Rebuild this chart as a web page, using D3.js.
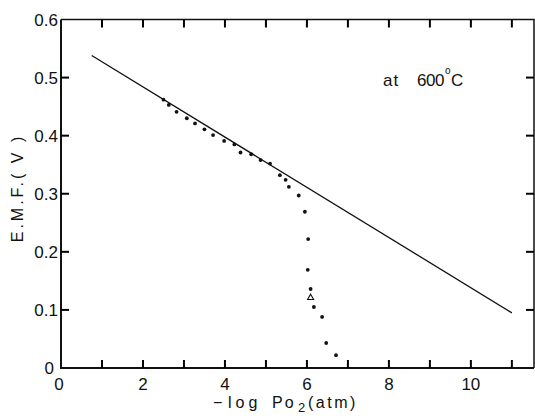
<!DOCTYPE html>
<html>
<head>
<meta charset="utf-8">
<script src="https://cdn.jsdelivr.net/npm/d3@7"></script>
<style>
  body { margin: 0; background: #fff; }
  svg text { font-family: "Liberation Sans", Arial, sans-serif; fill: #111; }
</style>
</head>
<body>
<div id="chart"></div>
<script>
// EMF vs -log Po2 at 600 C
const xTicks = [0, 2, 4, 6, 8, 10];
const xMinorTicks = [1, 2, 3, 4, 5, 6, 7, 8, 9, 10, 11];
const yTicks = [0, 0.1, 0.2, 0.3, 0.4, 0.5, 0.6];
const yTickLabels = ["0", "0.1", "0.2", "0.3", "0.4", "0.5", "0.6"];

// measured points (dots)
const pointX = [2.50, 2.63, 2.82, 3.07, 3.27, 3.50, 3.71, 3.98, 4.23, 4.38, 4.64, 4.87, 5.10,
  5.34, 5.48, 5.56, 5.80, 5.95, 6.03, 6.02, 6.09, 6.17, 6.37, 6.47, 6.71];
const pointY = [0.462, 0.453, 0.441, 0.430, 0.421, 0.411, 0.401, 0.391, 0.385, 0.371, 0.368, 0.358, 0.352,
  0.332, 0.324, 0.312, 0.297, 0.269, 0.222, 0.169, 0.136, 0.105, 0.088, 0.043, 0.022];

// single triangle point
const triX = [6.09];
const triY = [0.121];

// theoretical line
const lineX = [0.75, 11.0];
const lineY = [0.538, 0.095];

(function () {
  const W = 535, H = 418;
  const left = 61, right = 534, top = 19.5, bottom = 368;

  const svg = d3.select("#chart").append("svg")
    .attr("width", W).attr("height", H);

  const x = d3.scaleLinear().domain([0, 11.54]).range([left, right]);
  const y = d3.scaleLinear().domain([0, 0.6]).range([bottom, top]);

  // frame
  svg.append("path")
    .attr("d", `M${left},${top}H${right}V${bottom}`)
    .attr("fill", "none").attr("stroke", "#111").attr("stroke-width", 1.5);
  svg.append("path")
    .attr("d", `M${left},${top}V${bottom}H${right}`)
    .attr("fill", "none").attr("stroke", "#111").attr("stroke-width", 2);

  // inward ticks on all four sides
  const tk = 8;
  const tg = svg.append("g").attr("class", "ticks")
    .attr("stroke", "#000").attr("stroke-width", 2);
  xMinorTicks.forEach(v => {
    tg.append("line").attr("x1", x(v)).attr("x2", x(v)).attr("y1", bottom).attr("y2", bottom - tk);
    tg.append("line").attr("x1", x(v)).attr("x2", x(v)).attr("y1", top).attr("y2", top + tk);
  });
  yTicks.slice(1, 6).forEach(v => {
    tg.append("line").attr("x1", left).attr("x2", left + tk).attr("y1", y(v)).attr("y2", y(v));
    tg.append("line").attr("x1", right).attr("x2", right - tk).attr("y1", y(v)).attr("y2", y(v));
  });

  // tick labels
  svg.selectAll("text.xt").data(xTicks).join("text")
    .attr("class", "xt")
    .attr("x", d => d === 0 ? x(d) - 2 : x(d))
    .attr("y", 390)
    .attr("text-anchor", "middle")
    .attr("font-size", 17)
    .text(d => d);

  svg.selectAll("text.yt").data(yTicks).join("text")
    .attr("class", "yt")
    .attr("x", (d, i) => i === 0 ? 54 : 58)
    .attr("y", d => y(d) + 6)
    .attr("text-anchor", "end")
    .attr("font-size", 17)
    .text((d, i) => yTickLabels[i]);

  // axis titles
  const xl = svg.append("text")
    .attr("y", 408)
    .attr("font-size", 16);
  xl.append("tspan").attr("x", 213).text("\u2212");
  xl.append("tspan").attr("x", 228).attr("letter-spacing", 4).text("log");
  xl.append("tspan").attr("x", 272).attr("letter-spacing", 2).text("Po");
  xl.append("tspan").attr("x", 298).attr("dy", 4).attr("font-size", 13).text("2");
  xl.append("tspan").attr("x", 308).attr("dy", -4).attr("letter-spacing", 2.5).text("(atm)");

  svg.append("text")
    .attr("transform", "translate(23,188) rotate(-90)")
    .attr("text-anchor", "middle")
    .attr("font-size", 16)
    .attr("letter-spacing", 3)
    .text("E.M.F.( V )");

  // annotation
  const ann = svg.append("text")
    .attr("y", 86)
    .attr("font-size", 17);
  ann.append("tspan").attr("x", 383).attr("letter-spacing", 1).text("at");
  ann.append("tspan").attr("x", 417).attr("letter-spacing", -0.5).text("600");
  ann.append("tspan").attr("x", 445).attr("dy", -12).attr("font-size", 10).text("o");
  ann.append("tspan").attr("x", 451).attr("dy", 12).text("C");

  // line
  svg.append("path")
    .datum(lineX.map((v, i) => [v, lineY[i]]))
    .attr("d", d3.line().x(d => x(d[0])).y(d => y(d[1])))
    .attr("fill", "none").attr("stroke", "#111").attr("stroke-width", 1.3);

  // dots
  svg.selectAll("circle.pt").data(pointX.map((v, i) => [v, pointY[i]])).join("circle")
    .attr("class", "pt")
    .attr("cx", d => x(d[0])).attr("cy", d => y(d[1]))
    .attr("r", 1.9).attr("fill", "#111");

  // triangle
  svg.selectAll("path.tri").data(triX.map((v, i) => [v, triY[i]])).join("path")
    .attr("class", "tri")
    .attr("transform", d => `translate(${x(d[0])},${y(d[1])})`)
    .attr("d", d3.symbol(d3.symbolTriangle, 16))
    .attr("fill", "none").attr("stroke", "#111").attr("stroke-width", 1.1);
})();
</script>
</body>
</html>
